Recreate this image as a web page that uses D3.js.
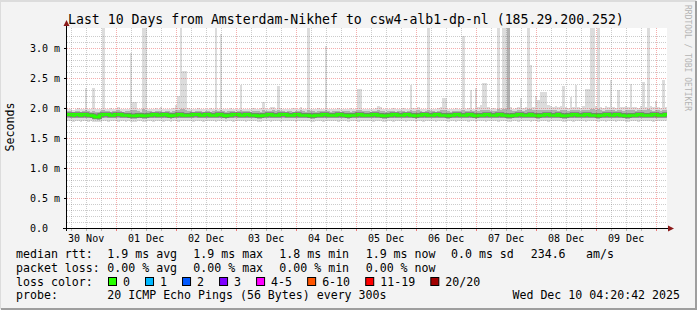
<!DOCTYPE html>
<html>
<head>
<meta charset="utf-8">
<script src="https://d3js.org/d3.v7.min.js"></script>
<style>
  body { margin: 0; background: #f3f3f3; }
  svg text { font-family: "DejaVu Sans Mono", monospace; fill: #000; }
</style>
</head>
<body>
<svg id="chart" width="697" height="310"></svg>
<script>
// time span of the graph (UTC), one bucket per hour
const startTime = new Date(Date.UTC(2025, 10, 30, 4, 20, 42));
const endTime = new Date(Date.UTC(2025, 11, 10, 4, 20, 42));

const yTicks = [0, 0.5, 1.0, 1.5, 2.0, 2.5, 3.0];
const yTickLabels = ["0.0", "0.5 m", "1.0 m", "1.5 m", "2.0 m", "2.5 m", "3.0 m"];

// median rtt per hour (ms)
const median = [
  1.89,1.89,1.88,1.89,1.89,1.88,1.89,1.89,1.88,1.88,1.87,1.85,1.85,1.88,1.89,1.89,1.89,1.88,1.88,1.89,1.89,1.89,1.88,1.88,
  1.88,1.87,1.87,1.87,1.88,1.88,1.87,1.87,1.88,1.88,1.89,1.89,1.88,1.88,1.89,1.89,1.88,1.87,1.88,1.88,1.89,1.89,1.88,1.88,
  1.88,1.88,1.89,1.89,1.89,1.88,1.88,1.89,1.89,1.88,1.88,1.88,1.89,1.89,1.88,1.87,1.88,1.88,1.89,1.89,1.89,1.88,1.88,1.89,
  1.89,1.88,1.88,1.88,1.87,1.87,1.88,1.88,1.89,1.89,1.88,1.88,1.88,1.89,1.89,1.89,1.88,1.88,1.88,1.89,1.89,1.88,1.88,1.88,
  1.88,1.87,1.87,1.88,1.88,1.88,1.89,1.89,1.88,1.88,1.88,1.88,1.89,1.89,1.88,1.88,1.87,1.88,1.88,1.88,1.89,1.89,1.88,1.88,
  1.88,1.88,1.89,1.89,1.88,1.88,1.87,1.87,1.88,1.88,1.89,1.89,1.88,1.88,1.88,1.89,1.89,1.88,1.88,1.87,1.88,1.88,1.89,1.89,
  1.88,1.88,1.88,1.89,1.89,1.88,1.88,1.88,1.87,1.88,1.88,1.89,1.89,1.88,1.88,1.88,1.89,1.89,1.88,1.87,1.88,1.88,1.88,1.89,
  1.89,1.88,1.88,1.88,1.89,1.89,1.88,1.88,1.87,1.87,1.88,1.88,1.89,1.89,1.88,1.88,1.88,1.89,1.88,1.88,1.87,1.88,1.88,1.89,
  1.89,1.88,1.88,1.88,1.89,1.88,1.87,1.87,1.88,1.88,1.89,1.89,1.88,1.88,1.88,1.89,1.89,1.88,1.88,1.88,1.87,1.88,1.88,1.89,
  1.89,1.88,1.88,1.89,1.89,1.88,1.88,1.87,1.87,1.88,1.88,1.88,1.89,1.89,1.88,1.88,1.88,1.88,1.89,1.89,1.88,1.88,1.88,1.89
];

// slowest ping per hour (ms) - the spikes
const maxPing = [
  1.98,1.99,1.97,1.98,2.00,1.98,1.99,2.33,1.99,1.98,2.34,1.99,1.98,1.99,3.50,1.98,1.99,2.00,1.98,1.99,2.02,1.98,1.99,1.98,
  1.99,2.91,2.10,2.10,1.99,1.98,3.50,3.50,1.99,1.98,1.99,2.00,1.98,2.02,1.99,1.98,1.99,1.98,2.00,2.05,2.20,3.50,2.62,2.62,
  2.00,1.99,1.98,1.99,2.00,1.98,1.99,1.98,1.99,2.00,1.99,3.50,1.99,3.24,1.98,1.99,1.98,2.00,1.99,1.98,1.99,2.38,1.99,1.98,
  1.99,1.98,2.00,1.99,1.98,2.00,2.10,1.99,1.98,2.01,2.02,1.99,2.36,2.00,1.99,1.98,1.99,1.98,2.00,1.99,1.98,2.02,1.99,1.98,
  3.50,1.99,1.98,1.99,2.00,1.98,1.99,3.04,1.98,1.99,1.98,1.99,2.00,1.98,1.99,1.98,1.99,2.00,1.98,1.99,2.32,2.32,1.99,1.98,
  1.99,1.98,1.99,2.00,2.04,2.02,1.99,1.98,1.99,1.98,2.00,1.99,1.98,1.99,2.00,1.98,1.99,2.38,2.00,1.99,2.02,1.99,1.98,1.99,
  3.50,1.99,1.98,1.99,2.00,2.02,2.17,2.17,1.99,1.98,1.99,2.00,1.98,1.99,3.20,1.99,2.00,2.30,1.99,2.33,2.02,2.05,2.42,2.42,
  2.02,1.99,2.00,1.99,3.50,2.00,3.50,3.50,3.50,2.01,1.99,2.00,2.01,2.17,2.00,2.02,3.50,2.72,2.02,2.20,2.13,2.27,2.27,2.27,
  2.05,2.03,2.02,2.04,2.01,2.03,2.37,2.02,2.00,2.19,2.01,2.38,2.02,2.00,2.03,2.31,2.31,3.50,3.50,2.04,3.50,2.02,2.00,2.03,
  2.01,2.46,2.02,2.00,2.30,2.02,2.01,2.03,2.02,2.40,2.01,2.02,2.00,2.03,2.43,2.02,3.50,2.03,2.01,2.12,2.02,2.00,2.46,2.02
];

// upper edge of the dense smoke (ms)
const highQ = [
  1.95,1.95,1.94,1.95,1.95,1.94,1.95,1.96,1.95,1.94,1.95,1.93,1.94,1.95,1.97,1.95,1.95,1.94,1.95,1.95,1.96,1.95,1.94,1.95,
  1.95,1.96,1.97,1.96,1.95,1.94,1.98,1.97,1.95,1.95,1.94,1.95,1.95,1.95,1.94,1.95,1.95,1.94,1.95,1.96,1.97,1.99,1.98,1.97,
  1.95,1.95,1.94,1.95,1.95,1.95,1.94,1.95,1.95,1.94,1.95,1.97,1.95,1.97,1.95,1.94,1.95,1.95,1.95,1.94,1.95,1.96,1.95,1.95,
  1.95,1.94,1.95,1.95,1.95,1.94,1.96,1.95,1.95,1.95,1.96,1.95,1.96,1.95,1.95,1.94,1.95,1.95,1.94,1.95,1.95,1.96,1.95,1.94,
  1.97,1.95,1.95,1.94,1.95,1.95,1.95,1.96,1.95,1.94,1.95,1.95,1.95,1.94,1.95,1.95,1.95,1.94,1.95,1.95,1.96,1.96,1.95,1.95,
  1.95,1.94,1.95,1.95,1.96,1.95,1.95,1.94,1.95,1.95,1.95,1.94,1.95,1.95,1.95,1.94,1.95,1.96,1.95,1.95,1.96,1.95,1.94,1.95,
  1.97,1.95,1.95,1.94,1.95,1.96,1.97,1.96,1.95,1.94,1.95,1.95,1.95,1.95,1.97,1.95,1.95,1.96,1.95,1.96,1.95,1.96,1.97,1.97,
  1.96,1.95,1.95,1.95,1.98,1.96,1.98,1.99,3.50,1.96,1.95,1.95,1.96,1.97,1.95,1.96,1.99,1.98,1.96,1.97,1.96,1.97,1.97,1.97,
  1.97,1.96,1.96,1.97,1.95,1.96,1.97,1.96,1.95,1.97,1.96,1.97,1.96,1.95,1.96,1.97,1.97,1.99,1.98,1.96,1.98,1.96,1.95,1.96,
  1.96,1.97,1.96,1.95,1.97,1.96,1.95,1.96,1.96,1.97,1.96,1.95,1.96,1.96,1.97,1.96,1.99,1.96,1.95,1.97,1.96,1.95,1.97,1.96
];

// lower edge of the dense smoke (ms)
const lowQ = [
  1.83,1.83,1.84,1.83,1.83,1.84,1.83,1.83,1.84,1.83,1.82,1.81,1.80,1.82,1.83,1.83,1.84,1.83,1.83,1.83,1.84,1.83,1.83,1.84,
  1.83,1.82,1.82,1.82,1.83,1.83,1.82,1.82,1.83,1.83,1.84,1.83,1.83,1.83,1.84,1.83,1.83,1.82,1.83,1.83,1.84,1.83,1.83,1.83,
  1.83,1.83,1.84,1.84,1.83,1.83,1.83,1.84,1.83,1.83,1.83,1.83,1.84,1.83,1.83,1.82,1.83,1.83,1.84,1.83,1.84,1.83,1.83,1.83,
  1.84,1.83,1.83,1.83,1.82,1.82,1.83,1.83,1.84,1.83,1.83,1.83,1.83,1.84,1.83,1.84,1.83,1.83,1.83,1.84,1.83,1.83,1.83,1.83,
  1.83,1.82,1.82,1.83,1.83,1.83,1.84,1.83,1.83,1.83,1.83,1.83,1.84,1.83,1.83,1.83,1.82,1.83,1.83,1.83,1.84,1.83,1.83,1.83,
  1.83,1.83,1.84,1.83,1.83,1.83,1.82,1.82,1.83,1.83,1.84,1.83,1.83,1.83,1.83,1.84,1.83,1.83,1.83,1.82,1.83,1.83,1.84,1.83,
  1.83,1.83,1.83,1.84,1.83,1.83,1.83,1.83,1.82,1.83,1.83,1.84,1.83,1.83,1.83,1.83,1.84,1.83,1.83,1.82,1.83,1.83,1.83,1.84,
  1.83,1.83,1.83,1.83,1.84,1.83,1.83,1.83,1.82,1.82,1.83,1.83,1.84,1.83,1.83,1.83,1.83,1.84,1.83,1.83,1.82,1.83,1.83,1.83,
  1.84,1.83,1.83,1.83,1.83,1.83,1.82,1.82,1.83,1.83,1.84,1.83,1.83,1.83,1.83,1.84,1.83,1.83,1.83,1.83,1.82,1.83,1.83,1.84,
  1.83,1.83,1.83,1.84,1.83,1.83,1.83,1.82,1.82,1.83,1.83,1.83,1.84,1.83,1.83,1.83,1.83,1.83,1.84,1.83,1.83,1.83,1.83,1.83
];

// fastest ping per hour (ms)
const minPing = [
  1.78,1.78,1.77,1.78,1.78,1.77,1.78,1.78,1.77,1.78,1.77,1.76,1.76,1.77,1.78,1.78,1.77,1.78,1.78,1.78,1.77,1.78,1.78,1.77,
  1.78,1.77,1.77,1.77,1.78,1.78,1.77,1.77,1.78,1.78,1.77,1.78,1.78,1.78,1.77,1.78,1.78,1.77,1.78,1.78,1.77,1.78,1.78,1.78,
  1.78,1.78,1.77,1.78,1.78,1.78,1.77,1.78,1.78,1.78,1.78,1.77,1.78,1.78,1.78,1.77,1.78,1.78,1.77,1.78,1.78,1.78,1.78,1.77,
  1.78,1.78,1.78,1.78,1.77,1.77,1.78,1.78,1.78,1.77,1.78,1.78,1.78,1.77,1.78,1.78,1.78,1.78,1.78,1.77,1.78,1.78,1.78,1.78,
  1.78,1.77,1.77,1.78,1.78,1.78,1.77,1.78,1.78,1.78,1.78,1.78,1.77,1.78,1.78,1.78,1.77,1.78,1.78,1.78,1.77,1.78,1.78,1.78,
  1.78,1.78,1.77,1.78,1.78,1.78,1.77,1.77,1.78,1.78,1.77,1.78,1.78,1.78,1.78,1.77,1.78,1.78,1.78,1.77,1.78,1.78,1.77,1.78,
  1.78,1.78,1.78,1.77,1.78,1.78,1.78,1.78,1.77,1.78,1.78,1.77,1.78,1.78,1.78,1.78,1.77,1.78,1.78,1.77,1.78,1.78,1.78,1.77,
  1.78,1.78,1.78,1.78,1.77,1.78,1.78,1.78,1.77,1.77,1.78,1.78,1.77,1.78,1.78,1.78,1.78,1.77,1.78,1.78,1.77,1.78,1.78,1.78,
  1.77,1.78,1.78,1.78,1.78,1.78,1.77,1.77,1.78,1.78,1.77,1.78,1.78,1.78,1.78,1.77,1.78,1.78,1.78,1.78,1.77,1.78,1.78,1.77,
  1.78,1.78,1.78,1.77,1.78,1.78,1.78,1.77,1.77,1.78,1.78,1.78,1.77,1.78,1.78,1.78,1.78,1.78,1.77,1.78,1.78,1.78,1.78,1.78
];

const titleText = "Last 10 Days from Amsterdam-Nikhef to csw4-alb1-dp-nl (185.29.200.252)";
const rttStats = ["1.9 ms avg", "1.9 ms max", "1.8 ms min", "1.9 ms now", "0.0 ms sd", "234.6", "am/s"];
const lossStats = ["0.00 % avg", "0.00 % max", "0.00 % min", "0.00 % now"];
const lossLabels = ["0", "1", "2", "3", "4-5", "6-10", "11-19", "20/20"];
const lossColors = ["#26ff00", "#00b8ff", "#0059ff", "#7e00ff", "#ff00ff", "#ff5500", "#ff0000", "#a10000"];
const probeText = "20 ICMP Echo Pings (56 Bytes) every 300s";
const stampText = "Wed Dec 10 04:20:42 2025";

const W = 697, H = 310;
const plot = { left: 67, right: 667, top: 28, bottom: 228 };
const charW = 7.02;

const svg = d3.select("#chart");

// background + 3d frame
svg.append("rect").attr("width", W).attr("height", H).attr("fill", "#f3f3f3");
svg.append("path").attr("d", `M0,${H - 1}V1H${W - 1}`).attr("fill", "none")
    .attr("stroke", "#dcdcdc").attr("stroke-width", 2);
svg.append("path").attr("d", `M1,${H - 1}H${W - 1}V1`).attr("fill", "none")
    .attr("stroke", "#9e9e9e").attr("stroke-width", 2);

const x = d3.scaleUtc().domain([startTime, endTime]).range([plot.left, plot.right]);
const y = d3.scaleLinear().domain([0, 10 / 3]).range([plot.bottom, plot.top]);

// canvas
svg.append("rect")
    .attr("x", plot.left).attr("y", plot.top)
    .attr("width", plot.right - plot.left).attr("height", plot.bottom - plot.top)
    .attr("fill", "#ffffff");

svg.append("clipPath").attr("id", "clip").append("rect")
    .attr("x", plot.left).attr("y", plot.top)
    .attr("width", plot.right - plot.left).attr("height", plot.bottom - plot.top);

const chart = svg.append("g").attr("clip-path", "url(#clip)");

// hourly buckets, with a closing point so the last step reaches the end
const buckets = median.map((m, i) => ({
    t: d3.utcHour.offset(startTime, i),
    median: m, maxPing: maxPing[i], highQ: highQ[i], lowQ: lowQ[i], minPing: minPing[i]
}));
buckets.push(Object.assign({}, buckets[buckets.length - 1], { t: endTime }));

const outerArea = d3.area().curve(d3.curveStepAfter)
    .x(d => x(d.t)).y0(d => y(d.minPing)).y1(d => y(d.maxPing));
const innerArea = d3.area().curve(d3.curveStepAfter)
    .x(d => x(d.t)).y0(d => y(d.lowQ)).y1(d => y(d.highQ));
const medianLine = d3.line().curve(d3.curveStepAfter)
    .x(d => x(d.t)).y(d => y(d.median));

chart.append("path").datum(buckets).attr("d", outerArea)
    .attr("fill", "#dcdcdc").attr("shape-rendering", "crispEdges");
chart.append("path").datum(buckets).attr("d", innerArea)
    .attr("fill", "#b0b0b0").attr("shape-rendering", "crispEdges");

// grid
const grid = svg.append("g").attr("shape-rendering", "crispEdges");
const minorY = d3.range(0, 33).map(i => i / 10).filter(v => Math.round(v * 10) % 5 !== 0);
grid.selectAll(".hminor").data(minorY).join("line")
    .attr("x1", plot.left).attr("x2", plot.right)
    .attr("y1", d => Math.round(y(d)) + 0.5).attr("y2", d => Math.round(y(d)) + 0.5)
    .attr("stroke", "rgba(120,120,120,0.38)").attr("stroke-dasharray", "1,1");
grid.selectAll(".hmajor").data(yTicks.slice(1)).join("line")
    .attr("x1", plot.left).attr("x2", plot.right)
    .attr("y1", d => Math.round(y(d)) + 0.5).attr("y2", d => Math.round(y(d)) + 0.5)
    .attr("stroke", "rgba(230,40,40,0.38)").attr("stroke-dasharray", "1,1");

const sixHours = d3.utcHour.every(6).range(startTime, endTime).filter(d => d.getUTCHours() !== 0);
const days = d3.utcDay.range(startTime, endTime);
grid.selectAll(".vminor").data(sixHours).join("line")
    .attr("x1", d => Math.round(x(d)) + 0.5).attr("x2", d => Math.round(x(d)) + 0.5)
    .attr("y1", plot.top).attr("y2", plot.bottom)
    .attr("stroke", "rgba(120,120,120,0.38)").attr("stroke-dasharray", "1,1");
grid.selectAll(".vmajor").data(days).join("line")
    .attr("x1", d => Math.round(x(d)) + 0.5).attr("x2", d => Math.round(x(d)) + 0.5)
    .attr("y1", plot.top).attr("y2", plot.bottom)
    .attr("stroke", "rgba(230,40,40,0.38)").attr("stroke-dasharray", "1,1");

// median line on its darker smoke core
chart.append("path").datum(buckets).attr("d", medianLine)
    .attr("fill", "none").attr("stroke", "#7a7a7a").attr("stroke-width", 4.5);
chart.append("path").datum(buckets).attr("d", medianLine)
    .attr("fill", "none").attr("stroke", lossColors[0]).attr("stroke-width", 3);

// axes
const axes = svg.append("g").attr("shape-rendering", "crispEdges");
axes.append("line").attr("x1", plot.left - 4).attr("x2", plot.right + 2)
    .attr("y1", plot.bottom + 0.5).attr("y2", plot.bottom + 0.5).attr("stroke", "#000");
axes.append("line").attr("x1", plot.left - 0.5).attr("x2", plot.left - 0.5)
    .attr("y1", plot.bottom + 3).attr("y2", plot.top - 4).attr("stroke", "#000");
axes.selectAll(".ytick").data(yTicks).join("line")
    .attr("x1", plot.left - 3).attr("x2", plot.left)
    .attr("y1", d => Math.round(y(d)) + 0.5).attr("y2", d => Math.round(y(d)) + 0.5)
    .attr("stroke", "#000");
axes.selectAll(".xminor").data(sixHours).join("line")
    .attr("x1", d => Math.round(x(d)) + 0.5).attr("x2", d => Math.round(x(d)) + 0.5)
    .attr("y1", plot.bottom + 1).attr("y2", plot.bottom + 3)
    .attr("stroke", "rgba(120,120,120,0.5)");
axes.selectAll(".xmajor").data(days).join("line")
    .attr("x1", d => Math.round(x(d)) + 0.5).attr("x2", d => Math.round(x(d)) + 0.5)
    .attr("y1", plot.bottom + 1).attr("y2", plot.bottom + 3)
    .attr("stroke", "rgba(230,40,40,0.6)");

// arrows
svg.append("path")
    .attr("d", `M${plot.left - 3.5},${plot.top - 2}L${plot.left - 0.5},${plot.top - 8}L${plot.left + 2.5},${plot.top - 2}Z`)
    .attr("fill", "#8b1a1a");
svg.append("path")
    .attr("d", `M${plot.right + 1},${plot.bottom - 2.5}L${plot.right + 7},${plot.bottom + 0.5}L${plot.right + 1},${plot.bottom + 3.5}Z`)
    .attr("fill", "#8b1a1a");

// axis labels
svg.selectAll(".ylabel").data(yTicks).join("text")
    .attr("x", 30).attr("y", d => y(d) + 3.5)
    .attr("font-size", "10px")
    .text((d, i) => yTickLabels[i]);

const noons = days.map(d => d3.utcHour.offset(d, 12)).concat([d3.utcHour.offset(d3.utcDay.floor(startTime), 12)])
    .filter(d => d > startTime && d < endTime).sort((a, b) => a - b);
svg.selectAll(".xlabel").data(noons).join("text")
    .attr("x", d => x(d)).attr("y", 242)
    .attr("text-anchor", "middle").attr("font-size", "10px")
    .text(d => d3.utcFormat("%d %b")(d));

svg.append("text")
    .attr("transform", "translate(14,127) rotate(-90)")
    .attr("text-anchor", "middle").attr("font-size", "11.6px")
    .text("Seconds");

svg.append("text")
    .attr("x", 68).attr("y", 23.5).attr("font-size", "13.2px")
    .text(titleText);

svg.append("text")
    .attr("transform", "translate(685,5) rotate(90)")
    .attr("font-size", "8px").style("fill", "#b4b4b4")
    .text("RRDTOOL / TOBI OETIKER");

// legend
const legend = svg.append("g").attr("font-size", "11.6px");
const rowY = [258, 271.8, 285.5, 299];
const statX = [107.3, 193.3, 279.3, 365.7, 451, 530.7, 586];

legend.append("text").attr("x", 16).attr("y", rowY[0]).text("median rtt:");
rttStats.forEach((s, i) => legend.append("text").attr("x", statX[i]).attr("y", rowY[0]).text(s));

legend.append("text").attr("x", 16).attr("y", rowY[1]).text("packet loss:");
lossStats.forEach((s, i) => legend.append("text").attr("x", statX[i]).attr("y", rowY[1]).text(s));

legend.append("text").attr("x", 16).attr("y", rowY[2]).text("loss color:");
let sx = 108;
lossLabels.forEach((lab, i) => {
    legend.append("rect")
        .attr("x", sx + 0.5).attr("y", 277.5).attr("width", 8).attr("height", 8)
        .attr("fill", lossColors[i]).attr("stroke", "#000").attr("stroke-width", 1);
    legend.append("text").attr("x", sx + 15).attr("y", rowY[2]).text(lab);
    sx += 15 + lab.length * charW + 15;
});

legend.append("text").attr("x", 16).attr("y", rowY[3]).text("probe:");
legend.append("text").attr("x", statX[0]).attr("y", rowY[3]).text(probeText);
legend.append("text").attr("x", 680).attr("y", rowY[3]).attr("text-anchor", "end").text(stampText);
</script>
</body>
</html>
